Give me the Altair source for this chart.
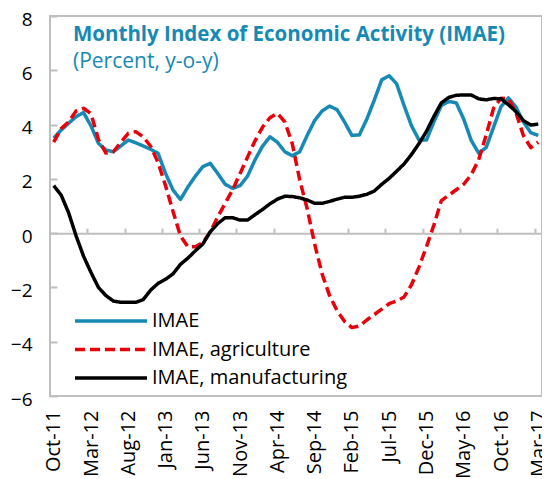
import json
import altair as alt
import pandas as pd

# ---------------- data ----------------
tick_labels = ["Oct-11", "Mar-12", "Aug-12", "Jan-13", "Jun-13", "Nov-13", "Apr-14",
               "Sep-14", "Feb-15", "Jul-15", "Dec-15", "May-16", "Oct-16", "Mar-17"]
series_names = ["IMAE", "IMAE, agriculture", "IMAE, manufacturing"]

# monthly values, Oct-11 .. Mar-17 (66 months)
imae = [3.50, 3.80, 4.05, 4.29, 4.44, 3.95, 3.31, 3.06, 3.00, 3.21,
        3.43, 3.33, 3.21, 3.09, 2.94, 2.20, 1.59, 1.24, 1.70, 2.10,
        2.45, 2.57, 2.20, 1.80, 1.65, 1.75, 2.10, 2.70, 3.20, 3.55,
        3.35, 3.00, 2.85, 3.00, 3.60, 4.15, 4.50, 4.68, 4.55, 4.10,
        3.60, 3.62, 4.20, 4.90, 5.65, 5.80, 5.50, 4.70, 3.95, 3.43,
        3.43, 4.10, 4.70, 4.85, 4.80, 4.20, 3.42, 2.95, 3.15, 3.90,
        4.66, 4.98, 4.65, 4.10, 3.70, 3.60]
agri = [3.35, 3.85, 4.10, 4.50, 4.60, 4.40, 3.45, 2.95, 3.00, 3.35,
        3.68, 3.74, 3.55, 3.20, 2.60, 1.75, 0.80, -0.10, -0.50, -0.50,
        -0.35, 0.05, 0.60, 1.10, 1.60, 2.20, 2.80, 3.40, 3.90, 4.25,
        4.42, 4.10, 3.30, 1.96, 0.90, -0.40, -1.50, -2.30, -2.85, -3.25,
        -3.48, -3.42, -3.20, -3.00, -2.80, -2.60, -2.50, -2.35, -1.90, -1.25,
        -0.50, 0.30, 1.20, 1.40, 1.60, 1.80, 2.15, 2.70, 3.60, 4.60,
        4.97, 4.95, 4.45, 3.60, 3.15, 3.35]
manu = [1.75, 1.40, 0.75, -0.10, -0.85, -1.45, -2.00, -2.30, -2.50, -2.55,
        -2.55, -2.55, -2.45, -2.10, -1.85, -1.70, -1.50, -1.15, -0.92, -0.65,
        -0.40, 0.05, 0.35, 0.57, 0.57, 0.48, 0.48, 0.68, 0.87, 1.08,
        1.25, 1.36, 1.35, 1.30, 1.22, 1.10, 1.10, 1.17, 1.25, 1.32,
        1.32, 1.36, 1.43, 1.55, 1.80, 2.02, 2.28, 2.55, 2.90, 3.30,
        3.75, 4.30, 4.80, 5.00, 5.08, 5.09, 5.09, 4.95, 4.91, 4.96,
        4.95, 4.73, 4.48, 4.15, 3.98, 4.02]

title_text = ["Monthly Index of Economic Activity (IMAE)"]
subtitle_text = ["(Percent, y-o-y)"]

# ---------------- layout ----------------
W, H = 492, 380
Y_MIN, Y_MAX = -6, 8
FONT = "Open Sans"
BLUE = "#1689b4"
RED = "#e8000b"
GRAY = "#bfbfbf"

rows = []
for name, vals in zip(series_names, [imae, agri, manu]):
    for i, v in enumerate(vals):
        rows.append({"i": i, "value": v, "series": name})
df = pd.DataFrame(rows)

n = len(imae)
x_scale = alt.Scale(domain=[-0.5, n - 0.5], nice=False, zero=False)
y_scale = alt.Scale(domain=[Y_MIN, Y_MAX], nice=False, zero=False)
label_values = list(range(0, n, 5))
label_expr = json.dumps(tick_labels) + "[round(datum.value / 5)]"
y_values = list(range(Y_MIN, Y_MAX + 1, 2))

x_bottom = alt.Axis(values=label_values, labelExpr=label_expr, labelAngle=270,
                    ticks=False, tickSize=0, domain=False, grid=False, labelPadding=14,
                    labelFont=FONT, labelFontSize=20, labelColor="black", title=None)
y_left = alt.Axis(values=y_values, ticks=False, tickSize=0, domain=False, grid=False,
                  labelPadding=18, labelOffset=3, labelFont=FONT, labelFontSize=19,
                  labelColor="black", title=None)
x_top = alt.Axis(orient="top", offset=-H * Y_MAX / (Y_MAX - Y_MIN),
                 values=[v - 0.5 for v in label_values[1:]], labels=False,
                 ticks=True, tickSize=5, tickColor=GRAY, tickWidth=2,
                 domain=True, domainColor=GRAY, domainWidth=2, grid=False, title=None)
y_right = alt.Axis(orient="right", offset=-W, values=y_values, labels=False,
                   ticks=True, tickSize=7, tickColor=GRAY, tickWidth=2,
                   domain=False, grid=False, title=None)

ghost = alt.Chart(df).mark_line(opacity=0).encode(
    x=alt.X("i:Q", scale=x_scale, axis=x_top),
    y=alt.Y("value:Q", scale=y_scale, axis=y_right),
    detail="series:N",
)

lines = alt.Chart(df).mark_line(strokeWidth=3.5, strokeJoin="round").encode(
    x=alt.X("i:Q", scale=x_scale, axis=x_bottom),
    y=alt.Y("value:Q", scale=y_scale, axis=y_left),
    color=alt.Color("series:N", title=None,
                    scale=alt.Scale(domain=series_names, range=[BLUE, RED, "black"])),
    strokeDash=alt.StrokeDash("series:N", title=None,
                              scale=alt.Scale(domain=series_names,
                                              range=[[1, 0], [10, 5], [1, 0]])),
)

title = alt.Chart(pd.DataFrame({"t": title_text})).mark_text(
    align="left", baseline="alphabetic", font=FONT, fontSize=20.5, fontWeight="bold",
    color=BLUE,
).encode(text="t:N", x=alt.value(23), y=alt.value(25))

subtitle = alt.Chart(pd.DataFrame({"t": subtitle_text})).mark_text(
    align="left", baseline="alphabetic", font=FONT, fontSize=21, color=BLUE,
).encode(text="t:N", x=alt.value(23), y=alt.value(52))

chart = alt.layer(ghost, lines, title, subtitle).resolve_axis(
    x="independent", y="independent"
).properties(
    width=W, height=H,
    autosize=alt.AutoSizeParams(type="none"),
    padding={"left": 42, "top": 8, "right": 0, "bottom": 83},
).configure_view(
    stroke=GRAY, strokeWidth=2
).configure_legend(
    orient="none", legendX=23, legendY=293, symbolType="stroke", symbolSize=5184,
    symbolStrokeWidth=3.5, clipHeight=24, rowPadding=4.5, labelFontSize=20,
    labelFont=FONT, labelColor="black", labelOffset=3, padding=0, labelLimit=0,
)

chart.save("out.html", embed_options={"renderer": "svg", "actions": False})
